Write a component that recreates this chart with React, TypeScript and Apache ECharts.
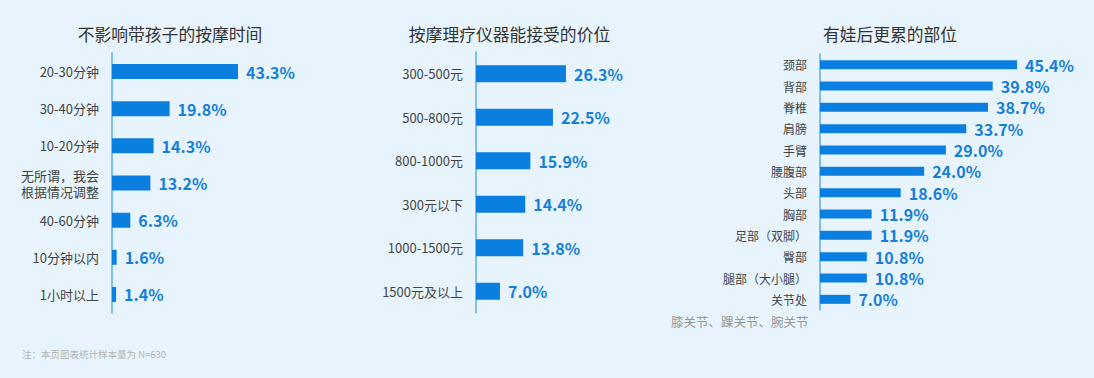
import React, { useEffect, useRef } from "react";
import * as echarts from "echarts";

const titles = ["不影响带孩子的按摩时间", "按摩理疗仪器能接受的价位", "有娃后更累的部位"];

const timeCategories = ["20-30分钟", "30-40分钟", "10-20分钟", "无所谓，我会\n根据情况调整", "40-60分钟", "10分钟以内", "1小时以上"];
const timeValues = [43.3, 19.8, 14.3, 13.2, 6.3, 1.6, 1.4];

const priceCategories = ["300-500元", "500-800元", "800-1000元", "300元以下", "1000-1500元", "1500元及以上"];
const priceValues = [26.3, 22.5, 15.9, 14.4, 13.8, 7.0];

const partCategories = ["颈部", "背部", "脊椎", "肩膀", "手臂", "腰腹部", "头部", "胸部", "足部（双脚）", "臀部", "腿部（大小腿）", "关节处"];
const partValues = [45.4, 39.8, 38.7, 33.7, 29.0, 24.0, 18.6, 11.9, 11.9, 10.8, 10.8, 7.0];

const jointNote = "膝关节、踝关节、腕关节";
const footnote = "注：本页图表统计样本量为 N=630";

const FONT = "'Noto Sans CJK SC', 'Noto Sans', sans-serif";
const BAR = "#0a7fe0";
const LABEL = "#1680d8";
const AXIS = "#5aaeee";

export default function App() {
  const ref = useRef<HTMLDivElement>(null);
  useEffect(() => {
    if (!ref.current) return;
    const chart = echarts.init(ref.current, undefined, { renderer: "svg" });
    const grids = [
      { left: 112, top: 53, width: 145.5, height: 260 },
      { left: 476, top: 52, width: 102.6, height: 261 },
      { left: 820, top: 54, width: 217, height: 256 },
    ];
    const cats = [timeCategories, priceCategories, partCategories];
    const vals = [timeValues, priceValues, partValues];
    const maxes = [50, 30, 50];
    const barW = [15, 17, 9];
    const labelSize = [13, 13, 12];
    const titleX = [170, 509.5, 890];
    chart.setOption({
      animation: false,
      backgroundColor: "#e8f4fd",
      textStyle: { fontFamily: FONT },
      grid: grids.map((g) => ({ ...g, containLabel: false })),
      xAxis: grids.map((_, i) => ({
        type: "value",
        gridIndex: i,
        min: 0,
        max: maxes[i],
        show: false,
      })),
      yAxis: grids.map((_, i) => ({
        type: "category",
        gridIndex: i,
        inverse: true,
        data: cats[i],
        axisLine: { show: true, lineStyle: { color: AXIS, width: 1.5 } },
        axisTick: { show: false },
        axisLabel: {
          margin: 13,
          color: "#444",
          fontSize: labelSize[i],
          fontFamily: FONT,
          lineHeight: 16,
        },
      })),
      series: grids.map((_, i) => ({
        type: "bar",
        xAxisIndex: i,
        yAxisIndex: i,
        data: vals[i],
        barWidth: barW[i],
        itemStyle: { color: BAR },
        label: {
          show: true,
          position: "right",
          distance: 8,
          formatter: (p: any) => p.value.toFixed(1) + "%",
          color: LABEL,
          fontSize: 16,
          lineHeight: 18,
          fontWeight: "bold",
          fontFamily: FONT,
        },
      })),
      graphic: [
        ...titles.map((t, i) => ({
          type: "text",
          x: titleX[i],
          y: 34,
          style: {
            text: t,
            fill: "#333",
            fontSize: 16.8,
            fontFamily: FONT,
            textAlign: "center",
            textVerticalAlign: "middle",
          },
        })),
        {
          type: "text",
          left: 671,
          top: 315,
          style: { text: jointNote, fill: "#999", fontSize: 12.5, fontFamily: FONT },
        },
        {
          type: "text",
          left: 22,
          top: 349,
          style: { text: footnote, fill: "#b5b5b5", fontSize: 9.5, fontFamily: FONT },
        },
      ],
    });
    return () => chart.dispose();
  }, []);
  return <div ref={ref} style={{ position: "fixed", left: 0, top: 0, width: 1094, height: 378 }} />;
}
